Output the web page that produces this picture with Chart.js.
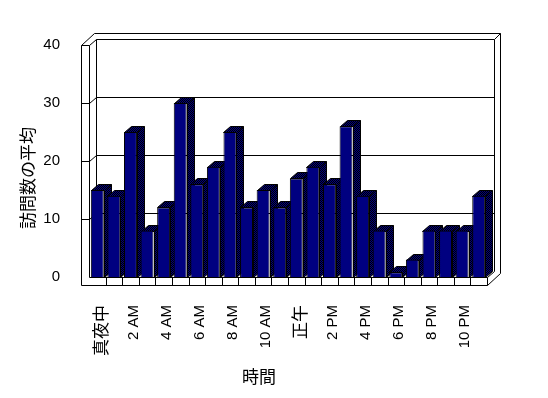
<!DOCTYPE html>
<html><head><meta charset="utf-8">
<script src="https://cdn.jsdelivr.net/npm/chart.js@4/dist/chart.umd.min.js"></script>
<style>html,body{margin:0;padding:0;background:#fff}</style>
</head><body>
<canvas id="c" width="548" height="398"></canvas>
<script>
const hours = ['真夜中','1 AM','2 AM','3 AM','4 AM','5 AM','6 AM','7 AM','8 AM','9 AM','10 AM','11 AM',
               '正午','1 PM','2 PM','3 PM','4 PM','5 PM','6 PM','7 PM','8 PM','9 PM','10 PM','11 PM'];
const visits = [15,14,25,8,12,30,16,19,25,12,15,12,17,19,16,26,14,8,0.8,3,8,8,8,14];
const yTicks = [0,10,20,30,40];
const yTitle = '訪問数の平均';
const xTitle = '時間';

const DX = 7, DY = -6, WX = 13, WY = -12, TH = 8;
const CJK = '"Noto Sans CJK JP", sans-serif';
const LAT = '"Liberation Sans", Arial, sans-serif';

function makePattern(ctx){
  const c = document.createElement('canvas'); c.width = 2; c.height = 2;
  const g = c.getContext('2d');
  g.fillStyle = '#000080'; g.fillRect(0,0,2,2);
  g.fillStyle = '#000000'; g.fillRect(0,0,1,1); g.fillRect(1,1,1,1);
  return ctx.createPattern(c, 'repeat');
}

const frame3d = {
  id: 'frame3d',
  beforeDatasetsDraw(chart){
    const ctx = chart.ctx;
    const {left, right, top, bottom} = chart.chartArea;
    const L = Math.round(left), R = Math.round(right), T = Math.round(top), B = Math.round(bottom);
    const ys = chart.scales.y;
    ctx.save();
    ctx.strokeStyle = '#000'; ctx.lineWidth = 1;
    const line = (x1,y1,x2,y2) => { ctx.beginPath(); ctx.moveTo(x1+0.5,y1+0.5); ctx.lineTo(x2+0.5,y2+0.5); ctx.stroke(); };
    line(L-TH+WX, T+WY, R+WX, T+WY);
    line(R+WX, T+WY, R+WX, B+TH+WY);
    line(R+DX, T+DY, R+WX, T+WY);
    line(L+DX, T+DY, R+DX, T+DY);
    line(R+DX, T+DY, R+DX, B+DY);
    line(L+DX, T+DY, L+DX, B+DY);
    line(L-TH, T, L-TH, B+TH);
    line(L, T, L, B);
    line(L-TH, T, L, T);
    line(L-TH, T, L-TH+WX, T+WY);
    line(L, T, L+DX, T+DY);
    yTicks.forEach(v => {
      if (v === 0 || v === 40) return;
      const yf = Math.round(ys.getPixelForValue(v));
      line(L-TH, yf, L, yf);
      line(L, yf, L+DX, yf+DY);
      line(L+DX, yf+DY, R+DX, yf+DY);
    });
    line(L, B, R, B);
    line(L-TH, B+TH, R, B+TH);
    line(R, B, R, B+TH);
    line(R, B, R+DX, B+DY);
    line(R, B+TH, R+WX, B+TH+WY);
    const n = hours.length;
    for (let k = 1; k < n; k++){
      const xb = Math.round(left + k*(right-left)/n);
      line(xb, B, xb, B+TH);
    }
    const pat = makePattern(ctx);
    const meta = chart.getDatasetMeta(0);
    meta.data.forEach(el => {
      const p = el.getProps(['x','y','base','width'], true);
      const x1 = Math.round(p.x - p.width/2), x2 = Math.round(p.x + p.width/2);
      const yt = Math.round(p.y), yb = Math.round(p.base);
      ctx.fillStyle = pat;
      ctx.beginPath();
      ctx.moveTo(x1+0.5, yt+0.5); ctx.lineTo(x1+DX+0.5, yt+DY+0.5); ctx.lineTo(x2+DX+0.5, yt+DY+0.5);
      ctx.lineTo(x2+DX+0.5, yb+DY+0.5); ctx.lineTo(x2+0.5, yb+0.5); ctx.lineTo(x2+0.5, yt+0.5); ctx.closePath();
      ctx.fill(); ctx.stroke();
      line(x2, yt, x2+DX, yt+DY);
    });
    ctx.restore();
  },
  afterDraw(chart){
    const ctx = chart.ctx;
    ctx.save();
    ctx.fillStyle = '#000';
    ctx.font = '17px ' + CJK;
    ctx.textAlign = 'center'; ctx.textBaseline = 'middle';
    ctx.translate(28, 178); ctx.rotate(-Math.PI/2);
    ctx.fillText(yTitle, 0, 0);
    ctx.restore();
    ctx.save();
    ctx.fillStyle = '#000';
    ctx.font = '17px ' + CJK;
    ctx.textAlign = 'center'; ctx.textBaseline = 'middle';
    ctx.fillText(xTitle, 259, 377);
    ctx.restore();
  }
};

new Chart(document.getElementById('c'), {
  type: 'bar',
  data: {
    labels: hours,
    datasets: [{
      data: visits,
      backgroundColor: '#000080',
      borderColor: '#000000',
      borderWidth: 1,
      barPercentage: 0.78,
      categoryPercentage: 1
    }]
  },
  options: {
    responsive: false,
    animation: false,
    layout: { padding: { top: 45, right: 61, bottom: 0, left: 0 } },
    plugins: { legend: { display: false }, tooltip: { enabled: false } },
    scales: {
      x: {
        grid: { display: false },
        border: { display: false },
        ticks: {
          autoSkip: false, maxRotation: 90, minRotation: 90, padding: 20, labelOffset: 3, color: '#000',
          font: (c) => {
            const lab = hours[c.index] || '';
            return /[^\x00-\x7f]/.test(lab) ? { family: CJK, size: 17 } : { family: LAT, size: 15 };
          },
          callback: (v, i) => (i % 2 === 0 ? hours[i] : '')
        },
        afterFit: (s) => { s.height = 121; }
      },
      y: {
        min: 0, max: 40,
        grid: { display: false },
        border: { display: false },
        ticks: { stepSize: 10, padding: 21, color: '#000', font: { family: LAT, size: 15 } },
        afterFit: (s) => { s.width = 89; }
      }
    }
  },
  plugins: [frame3d]
});
</script>
</body></html>
